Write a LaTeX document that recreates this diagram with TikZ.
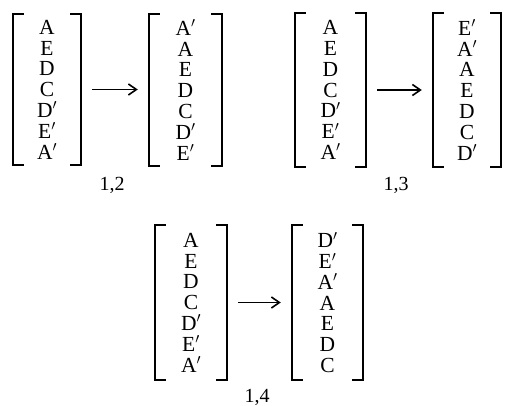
\documentclass[tikz,border=0pt]{standalone}
\usepackage{fontspec}
\setmainfont{Liberation Serif}
\usetikzlibrary{arrows.meta}
\tikzset{
 col/.style={inner sep=0pt, align=center, font=\fontsize{21.5}{20.8}\selectfont},
 brk/.style={line width=1.8pt},
 arr/.style={line width=1.3pt,-{Straight Barb[length=8pt,width=11pt,line width=1.6pt]}, shorten <=11pt, shorten >=11pt},
 lab/.style={font=\fontsize{20}{20}\selectfont, inner sep=0pt}
}
\newcommand{\mybrackets}[1]{%
 \draw[brk] ([xshift=11pt]#1.north west) -- (#1.north west) -- (#1.south west) -- ([xshift=11pt]#1.south west);
 \draw[brk] ([xshift=-11pt]#1.north east) -- (#1.north east) -- (#1.south east) -- ([xshift=-11pt]#1.south east);}
\begin{document}
\begin{tikzpicture}[x=1pt,y=-1pt]
\useasboundingbox (0,0) rectangle (506,405);
\node[col, minimum width=68pt, minimum height=151pt] (c1) at (47,89.5) {A\\E\\D\\C\\D$'$\\E$'$\\A$'$};
\node[col, minimum width=73pt, minimum height=152pt] (c2) at (185.5,90) {A$'$\\A\\E\\D\\C\\D$'$\\E$'$};
\node[col, minimum width=71pt, minimum height=154pt] (c3) at (330.5,90) {A\\E\\D\\C\\D$'$\\E$'$\\A$'$};
\node[col, minimum width=68pt, minimum height=154pt] (c4) at (467,90) {E$'$\\A$'$\\A\\E\\D\\C\\D$'$};
\node[col, minimum width=72pt, minimum height=155pt] (c5) at (191,302.5) {A\\E\\D\\C\\D$'$\\E$'$\\A$'$};
\node[col, minimum width=71pt, minimum height=155pt] (c6) at (327.5,302.5) {D$'$\\E$'$\\A$'$\\A\\E\\D\\C};
\mybrackets{c1}\mybrackets{c2}\mybrackets{c3}\mybrackets{c4}\mybrackets{c5}\mybrackets{c6}
\draw[arr] (c1.east) -- (c1.east -| c2.west);
\draw[arr] (c3.east) -- (c3.east -| c4.west);
\draw[arr] (c5.east) -- (c5.east -| c6.west);
\node[lab] (l12) at (112,185) {1,2};
\node[lab] (l13) at (396,185) {1,3};
\node[lab] (l14) at (257,397) {1,4};
\end{tikzpicture}
\end{document}
